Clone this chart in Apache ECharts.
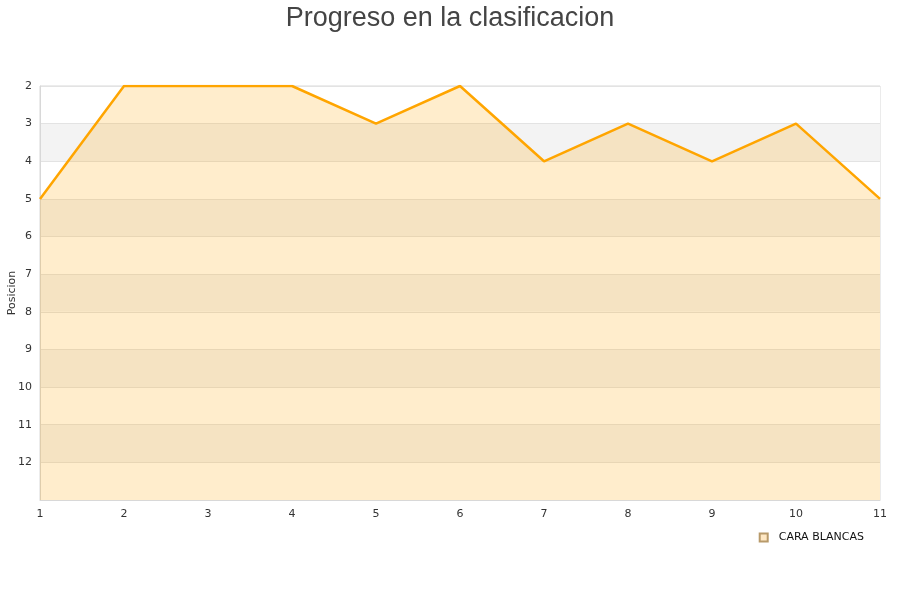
<!DOCTYPE html>
<html><head><meta charset="utf-8">
<script src="https://cdn.jsdelivr.net/npm/echarts@6/dist/echarts.min.js"></script>
<style>html,body{margin:0;padding:0;background:#fff}#c{width:900px;height:600px}</style>
</head><body><div id="c"></div>
<script>
var jornadas = [1,2,3,4,5,6,7,8,9,10,11];
var posiciones = [5,2,2,2,3,2,4,3,4,3,5];
var yTicks = [2,3,4,5,6,7,8,9,10,11,12];
var seriesName = 'CARA BLANCAS';

var chart = echarts.init(document.getElementById('c'));
chart.setOption({
  animation: false,
  backgroundColor: '#fff',
  title: { text: 'Progreso en la clasificacion', left: 'center', top: 0,
    textStyle: { fontFamily: 'Liberation Sans', fontSize: 27, fontWeight: 'normal', color: '#444' } },
  grid: { left: 40, right: 20, top: 86, bottom: 100, containLabel: false, outerBoundsMode: 'none',
    show: true, borderColor: '#d8d8d8', borderWidth: 1 },
  legend: { data: [seriesName], right: 36, top: 530, icon: 'rect', itemWidth: 8, itemHeight: 8,
    itemGap: 5, padding: [2, 0, 2, 0],
    textStyle: { fontFamily: 'DejaVu Sans', fontSize: 11, color: '#111', padding: [0, 0, 0, 6] } },
  xAxis: { type: 'value', min: 1, max: 11, interval: 1,
    axisLine: { lineStyle: { color: '#d8d8d8' } }, axisTick: { show: false },
    axisLabel: { fontFamily: 'DejaVu Sans', fontSize: 11, color: '#333', margin: 9 },
    splitLine: { show: false } },
  yAxis: { type: 'value', inverse: true, min: 2, max: 13, interval: 1,
    name: 'Posicion', nameLocation: 'middle', nameGap: 22, nameMoveOverlap: false,
    nameTextStyle: { fontFamily: 'DejaVu Sans', fontSize: 11, color: '#333' },
    axisLine: { show: true, lineStyle: { color: '#d8d8d8' } }, axisTick: { show: false },
    axisLabel: { fontFamily: 'DejaVu Sans', fontSize: 11, color: '#333', margin: 8,
      formatter: function (v) { return yTicks.indexOf(v) >= 0 ? String(v) : ''; } },
    splitLine: { show: true, lineStyle: { color: '#e3e3e3' } },
    splitArea: { show: true, areaStyle: { color: ['#ffffff', '#f3f3f3'] } } },
  series: [{
    name: seriesName, type: 'line',
    data: jornadas.map(function (j, i) { return [j, posiciones[i]]; }),
    symbol: 'none', showSymbol: false,
    lineStyle: { color: '#ffa500', width: 2.5 },
    itemStyle: { color: '#ffe8c4', borderColor: '#b89a6a', borderWidth: 1 },
    areaStyle: { color: 'rgba(255,165,0,0.2)', opacity: 1, origin: 'end' }
  }]
});
</script></body></html>
